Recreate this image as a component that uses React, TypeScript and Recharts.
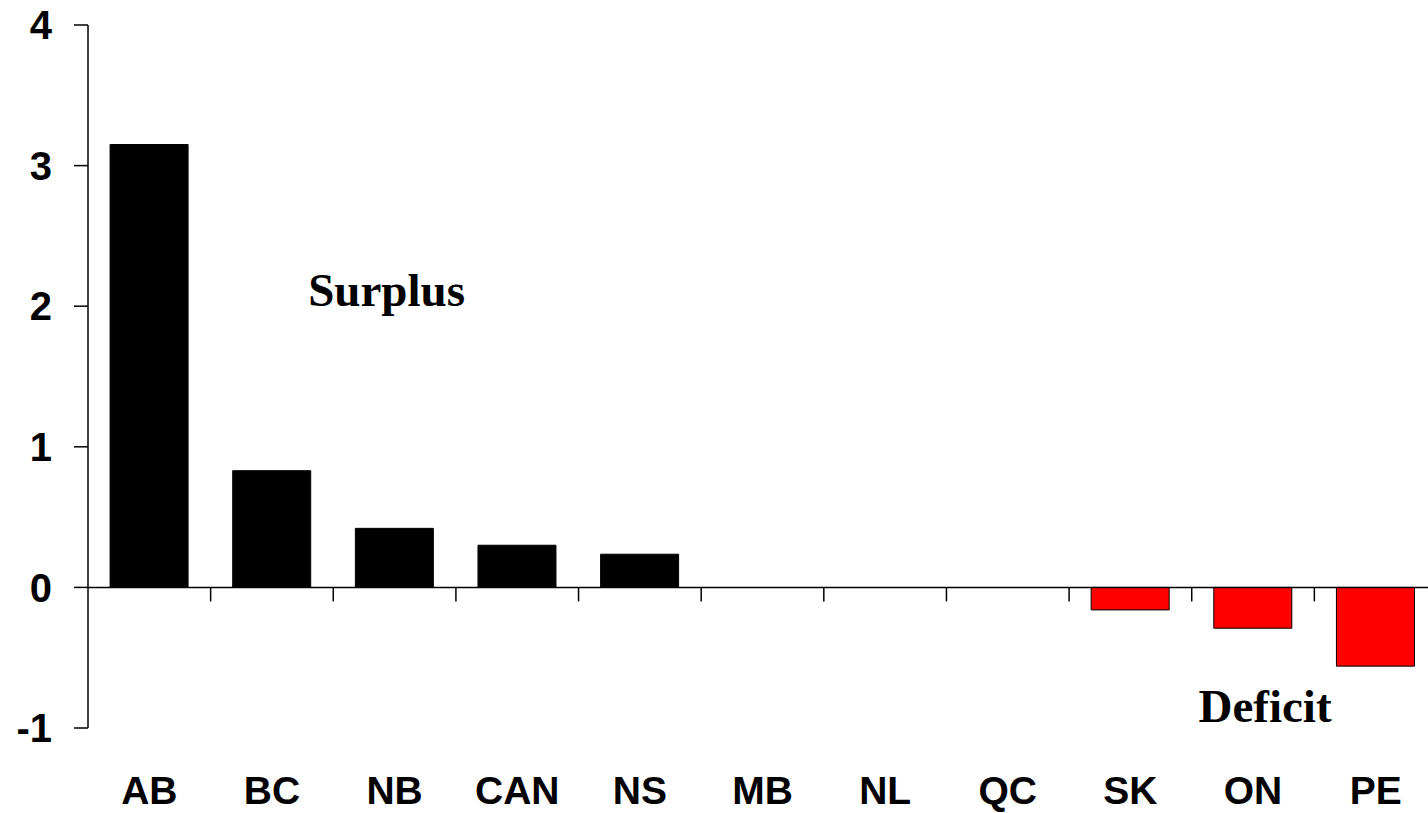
import React from "react";
import { BarChart, Bar, Cell, XAxis, YAxis, ReferenceLine, ReferenceDot } from "recharts";

// fiscal balance by province, % of GDP
const provinces = ["AB", "BC", "NB", "CAN", "NS", "MB", "NL", "QC", "SK", "ON", "PE"];
const balances = [3.15, 0.83, 0.42, 0.3, 0.236, 0, 0, 0, -0.16, -0.29, -0.56];
const yTicks = [-1, 0, 1, 2, 3, 4];

const data = provinces.map((p, i) => ({ prov: p, val: balances[i] }));

const W = 1437;
const H = 813;
const TOP = 25;
const XAXIS_H = 85;
const YAXIS_W = 88;
const Y_MIN = -1;
const Y_MAX = 4;
const PLOT_H = H - TOP - XAXIS_H;
const BAND = (W - YAXIS_W) / provinces.length;
const ZERO_Y = TOP + (PLOT_H * (Y_MAX - 0)) / (Y_MAX - Y_MIN);

const SANS = "'Liberation Sans', Arial, sans-serif";
const SERIF = "'Liberation Serif', 'Times New Roman', serif";

function ProvTick({ x, y, payload, index }: any) {
  return (
    <g>
      {index < provinces.length - 1 && (
        <line x1={x + BAND / 2} x2={x + BAND / 2} y1={ZERO_Y} y2={ZERO_Y + 14} stroke="#000" strokeWidth={1.5} />
      )}
      <text x={x} y={y + 76} textAnchor="middle" fontFamily={SANS} fontWeight="bold" fontSize={39} fill="#000">
        {payload.value}
      </text>
    </g>
  );
}

function Note({ text, dx }: { text: string; dx: number }) {
  return (p: any) => (
    <text x={p.viewBox.x + dx} y={p.viewBox.y} textAnchor="middle" fontFamily={SERIF} fontWeight="bold" fontSize={47} fill="#000">
      {text}
    </text>
  );
}

export default function App() {
  return (
    <div style={{ position: "absolute", left: 0, top: 0, width: 1428, height: 813, overflow: "hidden", background: "#fff" }}>
      <BarChart width={W} height={H} data={data} margin={{ top: TOP, right: 0, left: 0, bottom: 0 }} barCategoryGap="18%">
        <XAxis
          dataKey="prov"
          height={XAXIS_H}
          axisLine={false}
          tickLine={false}
          tickSize={0}
          tickMargin={0}
          interval={0}
          tick={<ProvTick />}
        />
        <YAxis
          width={YAXIS_W}
          domain={[Y_MIN, Y_MAX]}
          ticks={yTicks}
          interval={0}
          axisLine={{ stroke: "#000", strokeWidth: 1.5 }}
          tickLine={{ stroke: "#000", strokeWidth: 1.5 }}
          tickSize={14}
          tickMargin={22}
          tick={{ fontFamily: SANS, fontWeight: "bold", fontSize: 40, fill: "#000" }}
        />
        <ReferenceLine y={0} stroke="#000" strokeWidth={1.5} />
        <Bar dataKey="val" isAnimationActive={false} stroke="#000" strokeWidth={1}>
          {data.map((d) => (
            <Cell key={d.prov} fill={d.val < 0 ? "#ff0000" : "#000000"} />
          ))}
        </Bar>
        <ReferenceDot x="NB" y={2.0} r={0} fill="none" stroke="none" label={Note({ text: "Surplus", dx: -8 })} />
        <ReferenceDot x="ON" y={-0.96} r={0} fill="none" stroke="none" label={Note({ text: "Deficit", dx: 12 })} />
      </BarChart>
    </div>
  );
}
